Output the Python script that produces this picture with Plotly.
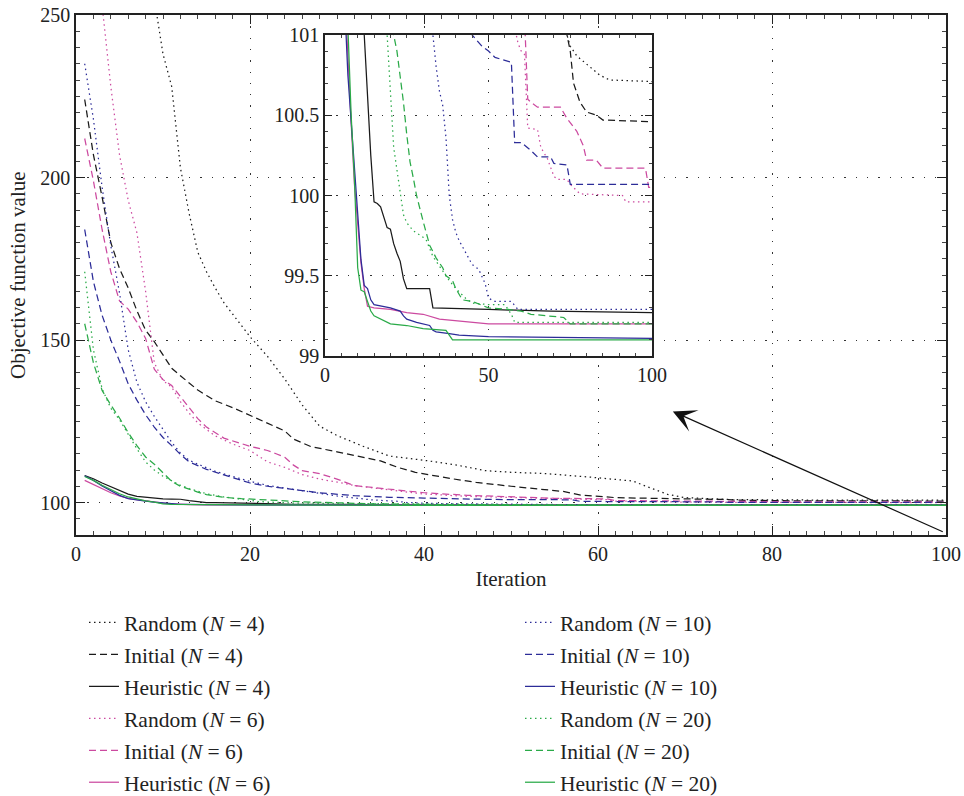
import plotly.graph_objects as go

# ---------------- data ----------------
rnd4_x = [1, 3, 5, 7, 9, 10, 11, 12, 13, 14, 15, 16, 17, 18, 19, 20, 22, 24, 26, 28, 30, 33, 36, 40, 44, 47,
          50, 54, 60, 64, 66, 68, 70, 72, 74, 75, 77, 80, 84, 87, 100]
rnd4_y = [420, 360, 310, 275, 255, 238, 228, 203, 189, 177, 171, 166, 161.5, 158, 154.5, 151, 145, 138, 130,
          123.5, 120.6, 117.3, 114.3, 113, 111.4, 109.8, 109.3, 108.9, 107.6, 106.6, 104.5, 102.5, 101.5,
          101.2, 101.0, 100.93, 100.87, 100.82, 100.75, 100.72, 100.71]

ini4_x = [1, 2, 3, 4, 5, 6, 7, 8, 9, 10, 11, 12, 13, 14, 15, 16, 18, 20, 22, 24, 25, 27, 30, 32, 35, 37, 39,
          43, 46, 50, 56, 58, 62, 66, 70, 72, 74, 75, 76, 78, 80, 83, 85, 100]
ini4_y = [224, 207, 194, 180, 172, 166, 159, 153, 149.5, 145.5, 141.3, 139, 136.8, 134.6, 132.9, 131.3, 129.2,
          126.8, 124.4, 122, 119.5, 117.2, 115.6, 114.4, 112.8, 110.8, 109.3, 107.4, 106.2, 105, 103.4, 102.3,
          101.5, 101.3, 101.2, 101.15, 101.0, 100.9, 100.7, 100.58, 100.52, 100.5, 100.47, 100.46]

heu4_x = [1, 2, 3, 4, 5, 6, 7, 8, 9, 10, 11, 12, 13, 14, 15, 16, 17, 18, 19, 20, 21, 22, 23, 24, 25, 32, 33,
          50, 69, 100]
heu4_y = [108.3, 107.3, 106, 104.8, 103.6, 102.6, 101.9, 101.6, 101.3, 101.15, 101.05, 101.0, 100.6, 100.25,
          99.96, 99.95, 99.93, 99.87, 99.8, 99.79, 99.7, 99.64, 99.59, 99.48, 99.42, 99.42, 99.3, 99.29,
          99.28, 99.27]

rnd6_x = [1, 2, 3, 4, 5, 6, 7, 8, 9, 10, 11, 12, 13, 14, 15, 16, 18, 20, 22, 24, 26, 28, 30, 32, 35, 40, 45,
          50, 55, 58, 59, 60, 61, 62, 65, 66, 68, 70, 71, 74, 75, 78, 91, 92, 100]
rnd6_y = [330, 285, 253, 228, 207, 193, 183, 165, 143, 137.5, 135.5, 131, 127.5, 124.5, 122.5, 120.5, 118,
          116, 112.5, 110.8, 108.6, 107.2, 106.3, 105.2, 104.2, 102.6, 101.9, 101.5, 101.2, 101.05, 100.95,
          100.9, 100.88, 100.42, 100.41, 100.3, 100.23, 100.12, 100.1, 100.1, 100.07, 100.01, 100.0, 99.96,
          99.96]

ini6_x = [1, 2, 3, 4, 5, 6, 7, 8, 9, 10, 11, 12, 13, 14, 15, 17, 20, 22, 23, 24, 25, 26, 28, 30, 32, 35, 37,
          40, 45, 50, 55, 60, 61, 62, 63, 65, 72, 74, 77, 79, 80, 83, 85, 98, 99, 100]
ini6_y = [212, 199, 184, 171, 162, 159.5, 155.5, 150.5, 141, 137.8, 136, 132.5, 129, 125.8, 123.2, 119.8,
          117.3, 116, 115, 113.9, 111.5, 109.8, 108.9, 107.2, 105.2, 104.4, 104, 103, 102.2, 101.7, 101.3,
          101.15, 101.12, 100.6, 100.58, 100.55, 100.55, 100.48, 100.4, 100.31, 100.22, 100.22, 100.17,
          100.17, 100.05, 100.05]

heu6_x = [1, 2, 3, 4, 5, 6, 7, 8, 9, 10, 11, 12, 13, 15, 20, 25, 30, 35, 40, 45, 50, 100]
heu6_y = [106.8, 105.5, 104.2, 103, 102, 101.3, 100.85, 100.45, 100.07, 99.8, 99.58, 99.42, 99.31, 99.3,
          99.29, 99.27, 99.26, 99.23, 99.22, 99.21, 99.2, 99.2]

rnd10_x = [1, 2, 3, 4, 5, 6, 7, 8, 9, 10, 11, 12, 13, 14, 16, 18, 20, 22, 24, 26, 28, 30, 32, 33, 34, 35, 36,
           37, 38, 39, 40, 41, 43, 45, 47, 49, 50, 52, 57, 59, 100]
rnd10_y = [235, 218, 197, 179, 164.5, 147, 137, 131, 126.5, 122.3, 118.5, 115.2, 113, 111.8, 109.6, 108,
           106.5, 105.3, 104.4, 103.6, 102.8, 102, 101.4, 101.0, 100.8, 100.65, 100.56, 100.36, 100.0, 99.85,
           99.77, 99.72, 99.64, 99.57, 99.54, 99.45, 99.36, 99.34, 99.34, 99.29, 99.29]

ini10_x = [1, 2, 3, 4, 5, 6, 7, 8, 9, 10, 11, 12, 13, 14, 15, 17, 20, 22, 24, 28, 32, 36, 40, 44, 45, 48, 50,
           52, 55, 57, 58, 60, 63, 65, 69, 70, 74, 75, 100]
ini10_y = [184, 168, 157.6, 150, 143.5, 136.5, 131.5, 127, 123.2, 120, 117.5, 114.8, 112.5, 111.3, 110.2,
           108.5, 106, 105, 104.3, 103, 102.1, 101.6, 101.35, 101.05, 101.0, 100.93, 100.9, 100.86, 100.84,
           100.83, 100.33, 100.33, 100.28, 100.24, 100.24, 100.2, 100.19, 100.07, 100.07]

heu10_x = [1, 2, 3, 4, 5, 6, 7, 8, 9, 10, 11, 12, 13, 14, 15, 20, 23, 24, 25, 28, 32, 33, 34, 38, 41, 50, 100]
heu10_y = [108.2, 106.8, 105.1, 103.6, 102.2, 101.2, 100.75, 100.45, 100.15, 99.9, 99.6, 99.44, 99.42, 99.35,
           99.32, 99.3, 99.28, 99.25, 99.23, 99.21, 99.19, 99.16, 99.15, 99.14, 99.13, 99.12, 99.11]

rnd20_x = [1, 2, 3, 4, 5, 6, 7, 8, 9, 10, 11, 12, 13, 14, 15, 17, 19, 20, 21, 22, 23, 24, 25, 27, 30, 31, 33,
           35, 38, 40, 43, 45, 50, 55, 57, 58, 100]
rnd20_y = [171, 147, 135, 129, 125.5, 121, 116.5, 112.5, 110, 108.1, 106.7, 105.3, 104.3, 103.4, 102.7, 101.7,
           100.95, 100.65, 100.3, 100.15, 100.0, 99.88, 99.83, 99.78, 99.74, 99.72, 99.62, 99.56, 99.47, 99.42,
           99.36, 99.33, 99.32, 99.32, 99.26, 99.21, 99.21]

ini20_x = [1, 2, 3, 4, 5, 6, 7, 8, 9, 10, 11, 12, 13, 14, 15, 17, 19, 21, 22, 23, 24, 25, 26, 27, 28, 30, 32,
           34, 36, 37, 39, 40, 42, 45, 50, 56, 60, 63, 73, 75, 100]
ini20_y = [155, 143, 134.5, 130, 126, 121.5, 117.5, 114, 111.8, 109, 106.5, 105, 104, 103.2, 102.4, 101.6,
           101.2, 101.0, 100.9, 100.74, 100.58, 100.38, 100.21, 100.11, 100.0, 99.84, 99.69, 99.61, 99.55,
           99.5, 99.47, 99.42, 99.35, 99.34, 99.3, 99.29, 99.28, 99.26, 99.24, 99.2, 99.2]

heu20_x = [1, 2, 3, 4, 5, 6, 7, 8, 9, 10, 11, 12, 13, 14, 15, 17, 20, 25, 30, 37, 38, 39, 100]
heu20_y = [108, 106.8, 105.3, 104, 102.7, 101.7, 101.05, 100.5, 100.1, 99.55, 99.41, 99.4, 99.34, 99.28,
           99.25, 99.23, 99.2, 99.19, 99.17, 99.16, 99.13, 99.1, 99.1]

x_ticks = [0, 20, 40, 60, 80, 100]
y_ticks = [100, 150, 200, 250]
inset_x_ticks = [0, 50, 100]
inset_y_ticks = [99, 99.5, 100, 100.5, 101]

# ---------------- styles ----------------
BLACK = "#1a1a1a"
PINK = "#cc4aa0"
BLUE = "#2c2c98"
GREEN = "#2aaa48"
DOT = "1.5px,3.5px"
DASH = "7px,4px"
FONT = "Liberation Serif"

series = [
    ("Random (<i>N</i> = 4)", rnd4_x, rnd4_y, BLACK, DOT, "legend"),
    ("Initial (<i>N</i> = 4)", ini4_x, ini4_y, BLACK, DASH, "legend"),
    ("Heuristic (<i>N</i> = 4)", heu4_x, heu4_y, BLACK, "solid", "legend"),
    ("Random (<i>N</i> = 6)", rnd6_x, rnd6_y, PINK, DOT, "legend"),
    ("Initial (<i>N</i> = 6)", ini6_x, ini6_y, PINK, DASH, "legend"),
    ("Heuristic (<i>N</i> = 6)", heu6_x, heu6_y, PINK, "solid", "legend"),
    ("Random (<i>N</i> = 10)", rnd10_x, rnd10_y, BLUE, DOT, "legend2"),
    ("Initial (<i>N</i> = 10)", ini10_x, ini10_y, BLUE, DASH, "legend2"),
    ("Heuristic (<i>N</i> = 10)", heu10_x, heu10_y, BLUE, "solid", "legend2"),
    ("Random (<i>N</i> = 20)", rnd20_x, rnd20_y, GREEN, DOT, "legend2"),
    ("Initial (<i>N</i> = 20)", ini20_x, ini20_y, GREEN, DASH, "legend2"),
    ("Heuristic (<i>N</i> = 20)", heu20_x, heu20_y, GREEN, "solid", "legend2"),
]

fig = go.Figure()
for i, (name, xs, ys, col, dash, leg) in enumerate(series):
    fig.add_trace(go.Scatter(x=xs, y=ys, mode="lines", name=name, legend=leg, legendgroup=f"g{i}",
                             line=dict(color=col, width=1.25, dash=dash),
                             xaxis="x", yaxis="y", showlegend=True))
for i, (name, xs, ys, col, dash, leg) in enumerate(series):
    fig.add_trace(go.Scatter(x=xs, y=ys, mode="lines", name=name, legendgroup=f"g{i}",
                             line=dict(color=col, width=1.25, dash=dash),
                             xaxis="x2", yaxis="y2", showlegend=False))

W, H = 964, 796
L, R, T, B = 76, 946, 15, 535
pw, ph = R - L, B - T

axis_common = dict(showline=True, linecolor="#222", linewidth=1.5, mirror="ticks", ticks="inside",
                   tickcolor="#222", tickwidth=1.2, zeroline=False, showgrid=True, gridcolor="#333",
                   gridwidth=1.2, griddash="1.3px,10px", automargin=True,
                   tickfont=dict(family=FONT, size=20, color="#222"))

ix0, ix1 = 325, 652
iy0, iy1 = 35, 356

fig.update_layout(
    width=W, height=H,
    margin=dict(l=L, r=W - R, t=T, b=H - B, autoexpand=False),
    paper_bgcolor="white", plot_bgcolor="white",
    font=dict(family=FONT, size=21, color="#222"),
    xaxis=dict(domain=[0, 1], range=[0, 100], tickvals=x_ticks, ticklen=9,
               minor=dict(dtick=2, ticklen=4, ticks="inside", tickcolor="#444", showgrid=False),
               title=dict(text="Iteration", font=dict(family=FONT, size=21), standoff=8),
               **axis_common),
    yaxis=dict(domain=[0, 1], range=[90, 250], tickvals=y_ticks, ticklen=9,
               minor=dict(dtick=5, ticklen=4, ticks="inside", tickcolor="#444", showgrid=False),
               **axis_common),
    xaxis2=dict(domain=[(ix0 - L) / pw, (ix1 - L) / pw], anchor="y2", range=[0, 100],
                tickvals=inset_x_ticks, ticklen=7,
                minor=dict(dtick=5, ticklen=3, ticks="inside", tickcolor="#444", showgrid=False),
                **axis_common),
    yaxis2=dict(domain=[(B - iy1) / ph, (B - iy0) / ph], anchor="x2", range=[99, 101],
                tickvals=inset_y_ticks, ticktext=["99", "99.5", "100", "100.5", "101"], ticklen=7,
                minor=dict(dtick=0.1, ticklen=3, ticks="inside", tickcolor="#444", showgrid=False),
                **axis_common),
    legend=dict(xref="container", yref="container", x=84 / W, y=1 - 602 / H, xanchor="left", yanchor="top",
                orientation="v", tracegroupgap=1.0, itemwidth=30, bgcolor="rgba(0,0,0,0)",
                font=dict(family=FONT, size=21.5, color="#222")),
    legend2=dict(xref="container", yref="container", x=520 / W, y=1 - 602 / H, xanchor="left",
                 yanchor="top", orientation="v", tracegroupgap=1.0, itemwidth=30,
                 bgcolor="rgba(0,0,0,0)", font=dict(family=FONT, size=21.5, color="#222")),
    showlegend=True,
)

# y-axis title (placed as an annotation so it sits next to the main axis)
fig.add_annotation(text="Objective function value", xref="paper", yref="paper",
                   x=(18 - L) / pw, y=0.5, xanchor="center", yanchor="middle", textangle=-90,
                   showarrow=False, font=dict(family=FONT, size=21, color="#222"))

fig.add_annotation(x=68.6, y=128, ax=99.8, ay=90.8, xref="x", yref="y", axref="x", ayref="y",
                   text="", showarrow=True, arrowhead=3, arrowsize=3.2, arrowwidth=1.2,
                   arrowcolor="#111")

fig.write_html("out.html")
